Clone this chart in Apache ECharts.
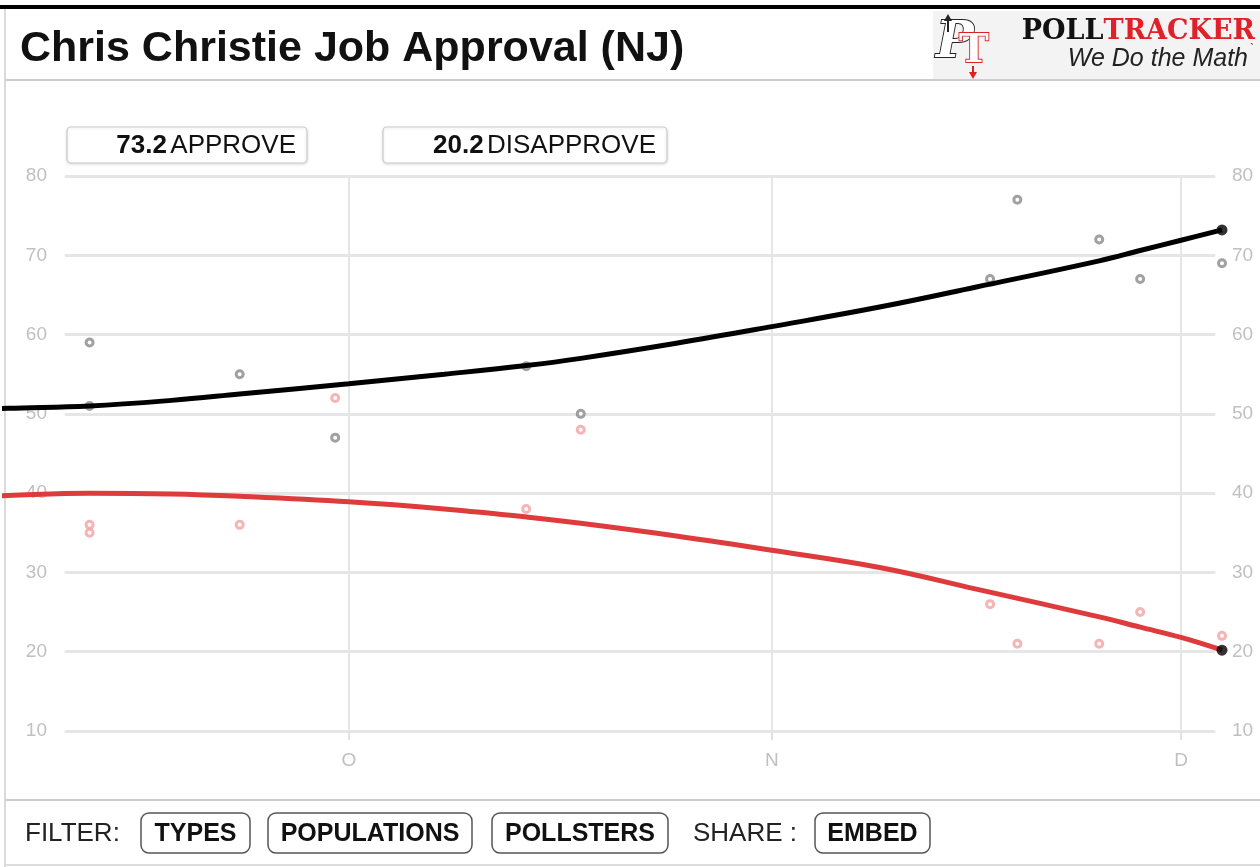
<!DOCTYPE html>
<html><head><meta charset="utf-8">
<script src="https://cdn.jsdelivr.net/npm/echarts@6/dist/echarts.min.js"></script>
<style>html,body{margin:0;padding:0;background:#fff}#c{width:1260px;height:867px}</style>
</head><body><div id="c"></div>
<script>
// ---------- data ----------
const chartTitle = 'Chris Christie Job Approval (NJ)';
const monthStarts = ['2012-10-01', '2012-11-01', '2012-12-01'];
const monthLabels = ['O', 'N', 'D'];
const yTickValues = [10, 20, 30, 40, 50, 60, 70, 80];

const pollDates = ['2012-09-12', '2012-09-12', '2012-09-23', '2012-09-30', '2012-10-14', '2012-10-18',
                   '2012-11-17', '2012-11-19', '2012-11-25', '2012-11-28', '2012-12-04'];
const approvePolls    = [59, 51, 55, 47, 56, 50, 67, 77, 72, 67, 69];
const disapprovePolls = [36, 35, 36, 52, 38, 48, 26, 21, 21, 25, 22];

const trendDates = ['2012-09-05', '2012-09-06', '2012-09-12', '2012-09-18', '2012-09-23', '2012-10-01', '2012-10-08',
                    '2012-10-14', '2012-10-18', '2012-10-25', '2012-11-01', '2012-11-09', '2012-11-16',
                    '2012-11-25', '2012-11-28', '2012-12-01', '2012-12-04'];
const approveTrend    = [50.6, 50.7, 51.0, 51.7, 52.5, 53.8, 55.0, 56.1, 57.0, 58.9, 61.0, 63.5, 66.0, 69.3, 70.6, 71.9, 73.2];
const disapproveTrend = [39.6, 39.7, 40.0, 39.9, 39.6, 38.9, 38.0, 37.0, 36.2, 34.6, 32.8, 30.6, 27.9, 24.4, 23.1, 21.8, 20.2];

const legendItems = [
  {value: '73.2', label: 'APPROVE'},
  {value: '20.2', label: 'DISAPPROVE'}
];
const filterButtons = ['TYPES', 'POPULATIONS', 'POLLSTERS'];
const shareButtons = ['EMBED'];

// ---------- helpers ----------
const ORIGIN = Date.parse('2012-10-01T00:00:00Z');
function dayOf(s) { return (Date.parse(s + 'T00:00:00Z') - ORIGIN) / 86400000; }
const monthDays = monthStarts.map(dayOf);
function pairs(dates, vals) { return dates.map((d, i) => [dayOf(d), vals[i]]); }

const FONT = '"Liberation Sans", Arial, Helvetica, sans-serif';
const LABEL_COLOR = '#c0c0c0';

const chart = echarts.init(document.getElementById('c'), null, {renderer: 'canvas'});

const lastIdx = trendDates.length - 1;

// graphic elements
const graphics = [];
graphics.push({type: 'rect', shape: {x: 0, y: 5, width: 1260, height: 4}, style: {fill: '#000'}});
graphics.push({type: 'line', shape: {x1: 5, y1: 9, x2: 5, y2: 867}, style: {stroke: '#cfcfcf', lineWidth: 1.5}});
graphics.push({type: 'line', shape: {x1: 5, y1: 80, x2: 1260, y2: 80}, style: {stroke: '#cdcdcd', lineWidth: 2}});
graphics.push({type: 'text', x: 20, y: 49, style: {text: chartTitle, font: 'bold 43px ' + FONT, fill: '#111', verticalAlign: 'middle'}});
// logo
graphics.push({type: 'rect', shape: {x: 933, y: 11, width: 327, height: 68}, style: {fill: '#f3f3f3'}});
graphics.push({type: 'text', x: 936, y: 44, style: {text: 'P', font: 'italic bold 50px "DejaVu Serif"', fill: '#fff', stroke: '#222', lineWidth: 1.8, verticalAlign: 'middle'}});
graphics.push({type: 'text', x: 959, y: 52, style: {text: 'T', font: 'bold 40px "DejaVu Serif"', fill: '#fff', stroke: '#d22', lineWidth: 1.8, verticalAlign: 'middle'}});
graphics.push({type: 'polyline', shape: {points: [[948, 32], [948, 18]]}, style: {stroke: '#222', lineWidth: 2}});
graphics.push({type: 'polygon', shape: {points: [[944, 21], [948, 14], [952, 21]]}, style: {fill: '#222'}});
graphics.push({type: 'polyline', shape: {points: [[973, 66], [973, 74]]}, style: {stroke: '#d22', lineWidth: 2}});
graphics.push({type: 'polygon', shape: {points: [[969, 72], [973, 79], [977, 72]]}, style: {fill: '#d22'}});
graphics.push({type: 'text', x: 1255, y: 32, style: {
  text: '{a|POLL}{b|TRACKER}', align: 'right', verticalAlign: 'middle',
  rich: {a: {font: 'bold 27px "DejaVu Serif"', fill: '#111', textStroke: '#111', lineWidth: 1},
         b: {font: 'bold 27px "DejaVu Serif"', fill: '#e1202a', textStroke: '#e1202a', lineWidth: 1}}
}});
graphics.push({type: 'text', x: 1248, y: 59, style: {text: 'We Do the Math', font: 'italic 25px ' + FONT, fill: '#222', align: 'right', verticalAlign: 'middle'}});
graphics.push({type: 'text', x: 1250, y: 50, style: {text: '\u02CB', font: '12px ' + FONT, fill: '#555', verticalAlign: 'middle'}});

// legend boxes
const legendBoxes = [{x: 67, w: 240}, {x: 383, w: 284}];
legendItems.forEach((it, i) => {
  const b = legendBoxes[i];
  graphics.push({type: 'rect', shape: {x: b.x, y: 127, width: b.w, height: 36, r: 4},
    style: {fill: '#fff', stroke: '#cccccc', lineWidth: 1.2, shadowBlur: 3, shadowColor: 'rgba(0,0,0,0.12)', shadowOffsetY: 1}});
  graphics.push({type: 'text', x: b.x + b.w - 11, y: 146, style: {
    text: '{v|' + it.value + '} {l|' + it.label + '}', align: 'right', verticalAlign: 'middle',
    rich: {v: {font: 'bold 26px ' + FONT, fill: '#111'}, l: {font: '26px ' + FONT, fill: '#111'}}
  }});
});

// bottom bar
graphics.push({type: 'line', shape: {x1: 5, y1: 800, x2: 1260, y2: 800}, style: {stroke: '#cdcdcd', lineWidth: 2}});
graphics.push({type: 'line', shape: {x1: 5, y1: 865, x2: 1260, y2: 865}, style: {stroke: '#dddddd', lineWidth: 2}});
graphics.push({type: 'text', x: 25, y: 834, style: {text: 'FILTER:', font: '26px ' + FONT, fill: '#222', verticalAlign: 'middle'}});
graphics.push({type: 'text', x: 693, y: 834, style: {text: 'SHARE :', font: '26px ' + FONT, fill: '#222', verticalAlign: 'middle'}});
const btnBoxes = [{x: 141, w: 109}, {x: 268, w: 204}, {x: 492, w: 176}, {x: 815, w: 115}];
filterButtons.concat(shareButtons).forEach((t, i) => {
  const b = btnBoxes[i];
  graphics.push({type: 'rect', shape: {x: b.x, y: 813, width: b.w, height: 40, r: 8}, style: {fill: '#fff', stroke: '#555', lineWidth: 1.5}});
  graphics.push({type: 'text', x: b.x + b.w / 2, y: 834, style: {text: t, font: 'bold 25px ' + FONT, fill: '#111', align: 'center', verticalAlign: 'middle'}});
});

const option = {
  animation: false,
  backgroundColor: '#fff',
  grid: [
    {left: 66, right: 46, top: 176, bottom: 136},
    {left: 5, right: 38, top: 176, bottom: 136}
  ],
  xAxis: [
    {gridIndex: 0, type: 'value', min: 0, max: 1, show: false},
    {gridIndex: 1, type: 'value', min: -25.2, max: 64,
      axisLine: {show: false},
      axisTick: {show: true, customValues: monthDays, length: 9, lineStyle: {color: '#e2e2e2', width: 2}},
      axisLabel: {show: true, customValues: monthDays, margin: 20, color: LABEL_COLOR, fontSize: 19, fontFamily: FONT,
        formatter: v => { const i = monthDays.findIndex(m => Math.abs(m - v) < 0.01); return i >= 0 ? monthLabels[i] : ''; }},
      splitLine: {show: true, lineStyle: {color: '#e6e6e6', width: 2}}
    }
  ],
  yAxis: [
    {gridIndex: 0, type: 'value', position: 'left', min: yTickValues[0], max: yTickValues[yTickValues.length - 1], interval: 10,
      axisLine: {show: false}, axisTick: {show: false},
      axisLabel: {margin: 19, color: LABEL_COLOR, fontSize: 19, fontFamily: FONT},
      splitLine: {show: true, lineStyle: {color: '#e6e6e6', width: 3, cap: 'round'}}},
    {gridIndex: 0, type: 'value', position: 'right', min: yTickValues[0], max: yTickValues[yTickValues.length - 1], interval: 10,
      axisLine: {show: false}, axisTick: {show: false},
      axisLabel: {margin: 18, color: LABEL_COLOR, fontSize: 19, fontFamily: FONT},
      splitLine: {show: false}},
    {gridIndex: 1, type: 'value', min: yTickValues[0], max: yTickValues[yTickValues.length - 1], show: false}
  ],
  series: [
    {type: 'scatter', name: 'Approve polls', xAxisIndex: 1, yAxisIndex: 2, data: pairs(pollDates, approvePolls),
      symbol: 'circle', symbolSize: 7, itemStyle: {color: '#fff', borderColor: '#8a8a8a', borderWidth: 3}, z: 2, silent: true},
    {type: 'scatter', name: 'Disapprove polls', xAxisIndex: 1, yAxisIndex: 2, data: pairs(pollDates, disapprovePolls),
      symbol: 'circle', symbolSize: 7, itemStyle: {color: '#fff', borderColor: '#f2a3a3', borderWidth: 3}, z: 2, silent: true},
    {type: 'line', name: 'Approve', xAxisIndex: 1, yAxisIndex: 2, data: pairs(trendDates, approveTrend),
      smooth: 0.4, showSymbol: false, clip: true, lineStyle: {color: '#000', width: 5}, z: 3},
    {type: 'line', name: 'Disapprove', xAxisIndex: 1, yAxisIndex: 2, data: pairs(trendDates, disapproveTrend),
      smooth: 0.4, showSymbol: false, clip: true, lineStyle: {color: '#de3b3d', width: 5}, z: 3},
    {type: 'scatter', name: 'Latest', xAxisIndex: 1, yAxisIndex: 2, clip: false,
      data: [[dayOf(trendDates[lastIdx]), approveTrend[lastIdx]], [dayOf(trendDates[lastIdx]), disapproveTrend[lastIdx]]],
      symbol: 'circle', symbolSize: 11, itemStyle: {color: '#000'}, z: 5, silent: true}
  ],
  graphic: graphics
};
chart.setOption(option);
</script>
</body></html>
